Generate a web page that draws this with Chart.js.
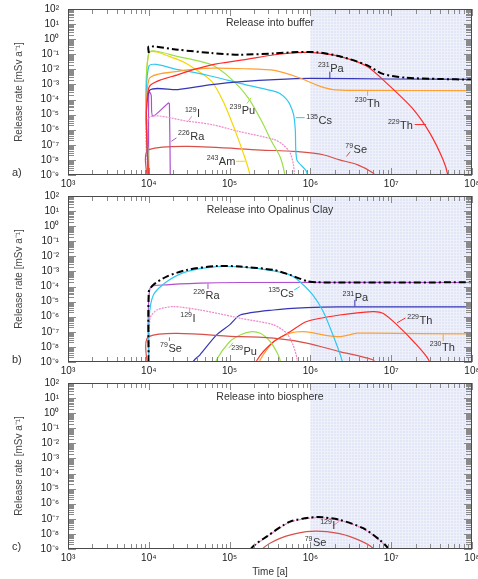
<!DOCTYPE html>
<html>
<head>
<meta charset="utf-8">
<script src="https://cdn.jsdelivr.net/npm/chart.js@4.4.1/dist/chart.umd.min.js"></script>
<style>
  html, body { margin: 0; padding: 0; background: #fff; }
  #wrap { position: relative; width: 478px; height: 579px; overflow: hidden; }
  canvas { position: absolute; left: 0; }
</style>
</head>
<body>
<div id="wrap">
  <canvas id="panelA" width="478" height="192" style="top:0px"></canvas>
  <canvas id="panelB" width="478" height="193" style="top:186px"></canvas>
  <canvas id="panelC" width="478" height="206" style="top:373px"></canvas>
</div>
<script>
// axis ticks
const xDecades = [3, 4, 5, 6, 7, 8];
const xTickLabels = ['10³', '10⁴', '10⁵', '10⁶', '10⁷', '10⁸'];
const yDecades = [-9, -8, -7, -6, -5, -4, -3, -2, -1, 0, 1, 2];
const yTickLabels = ['10⁻⁹', '10⁻⁸', '10⁻⁷', '10⁻⁶', '10⁻⁵', '10⁻⁴', '10⁻³', '10⁻²', '10⁻¹', '10⁰', '10¹', '10²'];
const shadeFrom = 1e6;

// a) release into buffer  [time a, mSv/a]
const aTotal = [[1e4,1.2e-1],[1e4,3.3e-1],[2.3e4,2e-1],[6e4,1.2e-1],[1.3e5,9.3e-2],[3.6e5,1.15e-1],[7e5,1.4e-1],[1.2e6,1.35e-1],[2.3e6,7.5e-2],[5e6,1.9e-2],[7.9e6,5e-3],[1.5e7,2.8e-3],[4e7,2.3e-3],[1e8,2.1e-3]];
const aTh229 = [[1e4,1e-10],[1e4,6e-4],[2.3e4,4.5e-3],[6e4,2e-2],[1.55e5,4.4e-2],[3.6e5,9.3e-2],[7e5,1.3e-1],[1.2e6,1.25e-1],[2.3e6,7.2e-2],[5e6,1.6e-2],[9.7e6,7.4e-4],[1.9e7,2.1e-5],[3e7,6.2e-7],[4.4e7,1e-8],[5e7,1.1e-9],[5.3e7,1e-10]];
const aTh230 = [[1e4,1e-10],[1e4,2.1e-3],[2.3e4,7.4e-3],[6e4,1.2e-2],[1.55e5,1.1e-2],[3.6e5,8.5e-3],[7.4e5,2.7e-3],[1.2e6,9e-4],[1.9e6,4.6e-4],[3.8e6,4.1e-4],[1e8,3.9e-4]];
const aPa231 = [[1e4,1e-10],[1e4,3.5e-4],[2.3e4,4.6e-4],[6e4,9.8e-4],[1.55e5,1.6e-3],[3.6e5,2.1e-3],[1e6,2.5e-3],[1e7,2.3e-3],[1e8,2.2e-3]];
const aCs135 = [[1e4,1e-10],[1e4,1.6e-2],[2.3e4,9.5e-3],[6e4,3.5e-3],[1.55e5,9.8e-4],[3.6e5,3.5e-4],[4.2e5,2.5e-4],[5.1e5,1e-4],[5.6e5,4.6e-5],[6.2e5,1e-5],[6.5e5,1e-6],[6.8e5,1e-8],[8.9e5,1.8e-9],[1e6,1e-10]];
const aPu239 = [[1e4,1e-10],[1e4,1.2e-1],[2.3e4,7e-2],[6e4,2e-2],[1.07e5,2.1e-3],[1.7e5,1.3e-4],[2.5e5,3.6e-6],[3.3e5,1.7e-7],[4.2e5,1.7e-8],[4.8e5,1.2e-9],[5e5,1e-10]];
const aAm243 = [[1e4,1e-10],[1e4,1.2e-1],[2.3e4,4.4e-2],[3.1e4,2e-2],[6e4,1.6e-3],[8.7e4,4.6e-5],[1.18e5,7.8e-7],[1.55e5,1.35e-8],[1.78e5,1.1e-9],[1.85e5,1e-10]];
const aI129 = [[1e4,1e-10],[1e4,6e-6],[3.1e4,3.6e-6],[6e4,2.2e-6],[1.29e5,7.8e-7],[3.6e5,2.2e-7],[4.6e5,1e-7],[5.6e5,3e-8],[6.2e5,4e-9],[6.5e5,1e-10]];
const aRa226 = [[1e4,1e-10],[1e4,3.5e-4],[1.07e4,2e-4],[1.12e4,8e-6],[1.75e4,6e-5],[1.8e4,5e-5],[1.85e4,1e-10]];
const aSe79 = [[1e4,1e-10],[1e4,4.8e-8],[3.6e5,4.2e-8],[7e5,3.5e-8],[1.44e6,2.2e-8],[2.3e6,1e-8],[3.8e6,4.9e-9],[5.9e6,1.4e-9],[7e6,5e-10]];

// b) release into Opalinus Clay
const bTotal = [[1e4,1e-10],[1e4,4.6e-5],[1.14e4,1.3e-4],[1.66e4,4.6e-4],[2.94e4,1.26e-3],[6.9e4,2.3e-3],[1.35e5,2.1e-3],[3.5e5,1.26e-3],[5.6e5,5.9e-4],[9e5,2.3e-4],[1.2e6,1.9e-4],[1e8,1.9e-4]];
const bCs135 = [[1e4,1e-10],[1.01e4,7.9e-7],[1.14e4,2.8e-5],[1.66e4,2.1e-4],[2.94e4,9.8e-4],[6.9e4,2.1e-3],[1.35e5,2e-3],[3.5e5,1.1e-3],[5.6e5,5.9e-4],[7.4e5,2.1e-4],[1.07e6,2.8e-5],[1.44e6,2.2e-6],[1.9e6,6.2e-8],[2.45e6,1.4e-9],[2.6e6,1e-10]];
const bRa226 = [[1e4,1e-10],[1.035e4,7.8e-5],[1.66e4,1.3e-4],[4.3e4,1.7e-4],[1.35e5,1.85e-4],[1e8,1.85e-4]];
const bI129 = [[1e4,1e-10],[1.035e4,7.9e-7],[1.26e4,2.8e-6],[2e4,4.7e-6],[4.3e4,2.8e-6],[1.12e5,1e-6],[1.35e5,7.9e-7],[3.5e5,2.9e-7],[5.1e5,8e-8],[6.1e5,1.35e-8],[6.8e5,1.8e-9],[7e5,1e-10]];
const bSe79 = [[1e4,1e-10],[1e4,4.8e-8],[1.35e5,4.8e-8],[3.5e5,3.8e-8],[9e5,1.8e-8],[2.3e6,4.9e-9],[5.9e6,1.4e-9],[7e6,5e-10]];
const bPa231 = [[3.3e4,3e-10],[3.55e4,1.1e-9],[4.3e4,3e-9],[6.9e4,6.2e-8],[1e5,2.9e-7],[1.35e5,1.3e-6],[3.5e5,2.8e-6],[9e5,4e-6],[2.3e6,4.5e-6],[1e8,4.5e-6]];
const bPu239 = [[6.5e4,3e-10],[6.9e4,1.4e-9],[1e5,2.2e-8],[1.35e5,6.2e-8],[1.8e5,1e-7],[2.4e5,8e-8],[3.2e5,2.2e-8],[3.8e5,4.9e-9],[4.2e5,1.4e-9],[4.4e5,1e-10]];
const bTh229 = [[2e5,1e-10],[2.2e5,1.4e-9],[3.5e5,2.2e-8],[5.6e5,1e-7],[9e5,4.8e-7],[2.3e6,1.3e-6],[5.9e6,2.2e-6],[7.9e6,1.7e-6],[1.18e7,2.9e-7],[1.9e7,2.2e-8],[2.9e7,1.4e-9],[3.2e7,1e-10]];
const bTh230 = [[2.2e5,1e-10],[2.4e5,1.4e-9],[3.5e5,2.2e-8],[5.6e5,8.1e-8],[9e5,1e-7],[1.44e6,6.2e-8],[2.3e6,4.8e-8],[3.8e6,8.1e-8],[5.9e6,8.1e-8],[1e8,7.2e-8]];

// c) release into biosphere
const cTotal = [[1.7e5,1e-10],[1.86e5,1.1e-9],[2.9e5,6.9e-9],[5.6e5,6.5e-8],[1.2e6,1.3e-7],[2.3e6,8.5e-8],[4.5e6,2.4e-8],[7.2e6,4e-9],[9.1e6,1.1e-9],[1e7,1e-10]];
const cI129 = [[1.7e5,1e-10],[1.86e5,1e-9],[2.9e5,6.5e-9],[5.6e5,6e-8],[1.2e6,1.2e-7],[2.3e6,8e-8],[4.5e6,2.2e-8],[7.2e6,3.7e-9],[9.1e6,1e-9],[1e7,1e-10]];
const cSe79 = [[2.4e5,1e-10],[2.6e5,1.1e-9],[4.2e5,5.1e-9],[8.9e5,1.4e-8],[1.6e6,1.4e-8],[3.1e6,6.6e-9],[6e6,1.1e-9],[6.5e6,1e-10]];

// nuclide labels: mass, element, text anchor (t, value), leader line
const aLabels = [
  ['231', 'Pa', 1.24e6, 1.3e-2, 'Pa231', [1.74e6, 7e-3, 1.74e6, 2.6e-3]],
  ['230', 'Th', 3.55e6, 6.3e-5, 'Th230', [5.1e6, 1.8e-4, 5.1e6, 4.2e-4]],
  ['229', 'Th', 9.1e6, 2.2e-6, 'Th229', [1.95e7, 2.2e-6, 2.7e7, 2.2e-6]],
  ['135', 'Cs', 8.9e5, 4.7e-6, 'Cs135', [6.6e5, 6.3e-6, 8.5e5, 6.3e-6]],
  ['239', 'Pu', 1e5, 2.1e-5, 'Pu239', [1.64e5, 5.4e-5, 1.84e5, 1.3e-4]],
  ['129', 'I', 2.8e4, 1.3e-5, 'I129', [3.4e4, 7.8e-6, 3.1e4, 4e-6]],
  ['226', 'Ra', 2.3e4, 3.6e-7, 'Ra226', [1.9e4, 1.7e-7, 2.2e4, 2.9e-7]],
  ['243', 'Am', 5.2e4, 8.1e-9, 'Am243', [1.2e5, 8.1e-9, 1.55e5, 8.1e-9]],
  ['79', 'Se', 2.7e6, 5.6e-8, 'Se79', [3.1e6, 3.5e-8, 2.8e6, 1.7e-8]]
];
const bLabels = [
  ['226', 'Ra', 3.55e4, 2.8e-5, 'Ra226', [5.4e4, 6.9e-5, 5.4e4, 1.6e-4]],
  ['129', 'I', 2.45e4, 8.3e-7, 'I129', [3.2e4, 1.8e-6, 3.2e4, 3.3e-6]],
  ['79', 'Se', 1.38e4, 8.5e-9, 'Se79', [1.8e4, 2.5e-8, 1.8e4, 4.3e-8]],
  ['239', 'Pu', 1.05e5, 5.5e-9, 'Pu239', [9.8e4, 8.5e-9, 1.1e5, 1.9e-8]],
  ['135', 'Cs', 3e5, 3.8e-5, 'Cs135', [6.3e5, 5.9e-5, 7.4e5, 1e-4]],
  ['231', 'Pa', 2.5e6, 2e-5, 'Pa231', [3.55e6, 1.3e-5, 3.55e6, 4.8e-6]],
  ['229', 'Th', 1.58e7, 6.2e-7, 'Th229', [1.18e7, 3.9e-7, 1.5e7, 8.3e-7]],
  ['230', 'Th', 3e7, 1e-8, 'Th230', [4.4e7, 2.5e-8, 4.4e7, 6.8e-8]]
];
const cLabels = [
  ['129', 'I', 1.32e6, 4e-8, 'I129', [1.9e6, 3.4e-8, 2.3e6, 7.2e-8]],
  ['79', 'Se', 8.5e5, 3e-9, 'Se79', null]
];

const styles = {
  total: { color: '#000000', width: 2, dash: [7, 3, 2, 3] },
  Th229: { color: '#ff2a2a', width: 1.2 },
  Th230: { color: '#ffa030', width: 1.2 },
  Pa231: { color: '#3535b5', width: 1.2 },
  Cs135: { color: '#30c8f0', width: 1.2 },
  Pu239: { color: '#9ae048', width: 1.2 },
  Am243: { color: '#f5d800', width: 1.2 },
  I129: { color: '#f088c8', width: 1.2, dash: [2, 1] },
  Ra226: { color: '#b050d0', width: 1.2 },
  Se79: { color: '#d8504a', width: 1.2 }
};

const FONT = '"Liberation Sans", Arial, sans-serif';

// light hatched fill for t > 1e6
const pat = document.createElement('canvas');
pat.width = 3; pat.height = 3;
const pg = pat.getContext('2d');
pg.fillStyle = '#e3e6f6'; pg.fillRect(0, 0, 3, 3);
pg.fillStyle = '#eff1fa'; pg.fillRect(0, 0, 3, 1); pg.fillRect(0, 0, 1, 3);

function nuclide(ctx, px, py, mass, el) {
  ctx.textAlign = 'left';
  ctx.textBaseline = 'alphabetic';
  ctx.font = '7px ' + FONT;
  ctx.fillText(mass, px, py - 1);
  const w = ctx.measureText(mass).width;
  ctx.font = '11px ' + FONT;
  ctx.fillText(el, px + w + 0.5, py + 4);
}

const decor = {
  id: 'decor',
  beforeDatasetsDraw(chart) {
    const { ctx, chartArea: a, scales: { x } } = chart;
    const x0 = x.getPixelForValue(shadeFrom);
    ctx.save();
    ctx.fillStyle = ctx.createPattern(pat, 'repeat');
    ctx.fillRect(x0, a.top, a.right - x0, a.bottom - a.top);
    ctx.restore();
  },
  afterDatasetsDraw(chart, args, o) {
    const { ctx, chartArea: a, scales: { x, y } } = chart;
    ctx.save();
    // inward ticks on all four sides
    ctx.strokeStyle = '#8a8a8a';
    ctx.lineWidth = 1;
    ctx.beginPath();
    xDecades.forEach(d => {
      for (let k = 1; k <= 9; k++) {
        if (d === 8 && k > 1) break;
        const px = Math.round(x.getPixelForValue(k * Math.pow(10, d))) + 0.5;
        const len = k === 1 ? 7 : 5;
        ctx.moveTo(px, a.bottom); ctx.lineTo(px, a.bottom - len);
        ctx.moveTo(px, a.top); ctx.lineTo(px, a.top + len);
      }
    });
    yDecades.forEach(d => {
      for (let k = 1; k <= 9; k++) {
        if (d === 2 && k > 1) break;
        const py = Math.round(y.getPixelForValue(k * Math.pow(10, d))) + 0.5;
        const len = k === 1 ? 8 : 6;
        ctx.moveTo(a.left, py); ctx.lineTo(a.left + len, py);
        ctx.moveTo(a.right, py); ctx.lineTo(a.right - len, py);
      }
    });
    ctx.stroke();
    ctx.strokeStyle = '#4a4a4a';
    ctx.strokeRect(a.left + 0.5, a.top + 0.5, a.right - a.left - 1, a.bottom - a.top - 1);

    // panel title and letter
    ctx.fillStyle = '#333';
    ctx.font = '10.5px ' + FONT;
    ctx.textAlign = 'center';
    ctx.textBaseline = 'middle';
    ctx.fillText(o.title, (a.left + a.right) / 2, a.top + 14);
    ctx.textAlign = 'left';
    ctx.font = '11px ' + FONT;
    ctx.fillText(o.letter, 12, a.bottom - 2);

    // nuclide labels with leader lines
    o.labels.forEach(([mass, el, t, v, key, lead]) => {
      if (lead) {
        ctx.strokeStyle = styles[key].color;
        ctx.beginPath();
        ctx.moveTo(x.getPixelForValue(lead[0]), y.getPixelForValue(lead[1]));
        ctx.lineTo(x.getPixelForValue(lead[2]), y.getPixelForValue(lead[3]));
        ctx.stroke();
      }
      ctx.fillStyle = '#333';
      nuclide(ctx, x.getPixelForValue(t), y.getPixelForValue(v), mass, el);
    });
    ctx.restore();
  }
};

function makePanel(id, title, letter, padTop, xHeight, series, labels, showXTitle) {
  new Chart(document.getElementById(id), {
    type: 'line',
    data: {
      datasets: series.map(([key, pts]) => ({
        data: pts.map(([t, v]) => ({ x: t, y: v })),
        borderColor: styles[key].color,
        borderWidth: styles[key].width,
        borderDash: styles[key].dash || [],
        pointRadius: 0,
        fill: false,
        tension: 0.25
      }))
    },
    options: {
      responsive: false,
      animation: false,
      devicePixelRatio: 1,
      layout: { padding: { top: padTop, right: 6, left: 0, bottom: 0 } },
      plugins: {
        legend: { display: false },
        tooltip: { enabled: false },
        decor: { title: title, letter: letter, labels: labels }
      },
      scales: {
        x: {
          type: 'logarithmic',
          min: 1e3,
          max: 1e8,
          grid: { display: false, drawTicks: false, tickLength: 0 },
          border: { display: false },
          afterBuildTicks: s => { s.ticks = xDecades.map(d => ({ value: Math.pow(10, d) })); },
          afterFit: s => { s.height = xHeight; s.paddingLeft = 0; s.paddingRight = 0; },
          ticks: {
            autoSkip: false,
            maxRotation: 0,
            padding: 3,
            color: '#222',
            font: { family: FONT, size: 10 },
            callback: (v, i) => xTickLabels[i]
          },
          title: {
            display: showXTitle,
            text: 'Time [a]',
            color: '#333',
            font: { family: FONT, size: 10 },
            padding: { top: 0, bottom: 1 }
          }
        },
        y: {
          type: 'logarithmic',
          min: 1e-9,
          max: 1e2,
          grid: { display: false, drawTicks: false, tickLength: 0 },
          border: { display: false },
          afterBuildTicks: s => { s.ticks = yDecades.map(d => ({ value: Math.pow(10, d) })); },
          afterFit: s => { s.width = 68; s.paddingTop = 0; s.paddingBottom = 0; },
          ticks: {
            autoSkip: false,
            padding: 9,
            color: '#222',
            font: { family: FONT, size: 10 },
            callback: (v, i) => yTickLabels[i]
          },
          title: {
            display: true,
            text: 'Release rate [mSv a⁻¹]',
            color: '#444',
            font: { family: FONT, size: 10 },
            padding: { top: 13, bottom: 0 }
          }
        }
      }
    },
    plugins: [decor]
  });
}

makePanel('panelA', 'Release into buffer', 'a)', 9, 17, [
  ['total', aTotal], ['Th229', aTh229], ['Th230', aTh230], ['Pa231', aPa231],
  ['Cs135', aCs135], ['Pu239', aPu239], ['Am243', aAm243], ['I129', aI129],
  ['Ra226', aRa226], ['Se79', aSe79]
], aLabels, false);

makePanel('panelB', 'Release into Opalinus Clay', 'b)', 10, 17, [
  ['total', bTotal], ['Cs135', bCs135], ['Ra226', bRa226], ['I129', bI129],
  ['Se79', bSe79], ['Pa231', bPa231], ['Pu239', bPu239], ['Th229', bTh229],
  ['Th230', bTh230]
], bLabels, false);

makePanel('panelC', 'Release into biosphere', 'c)', 10, 30, [
  ['total', cTotal], ['I129', cI129], ['Se79', cSe79]
], cLabels, true);
</script>
</body>
</html>
